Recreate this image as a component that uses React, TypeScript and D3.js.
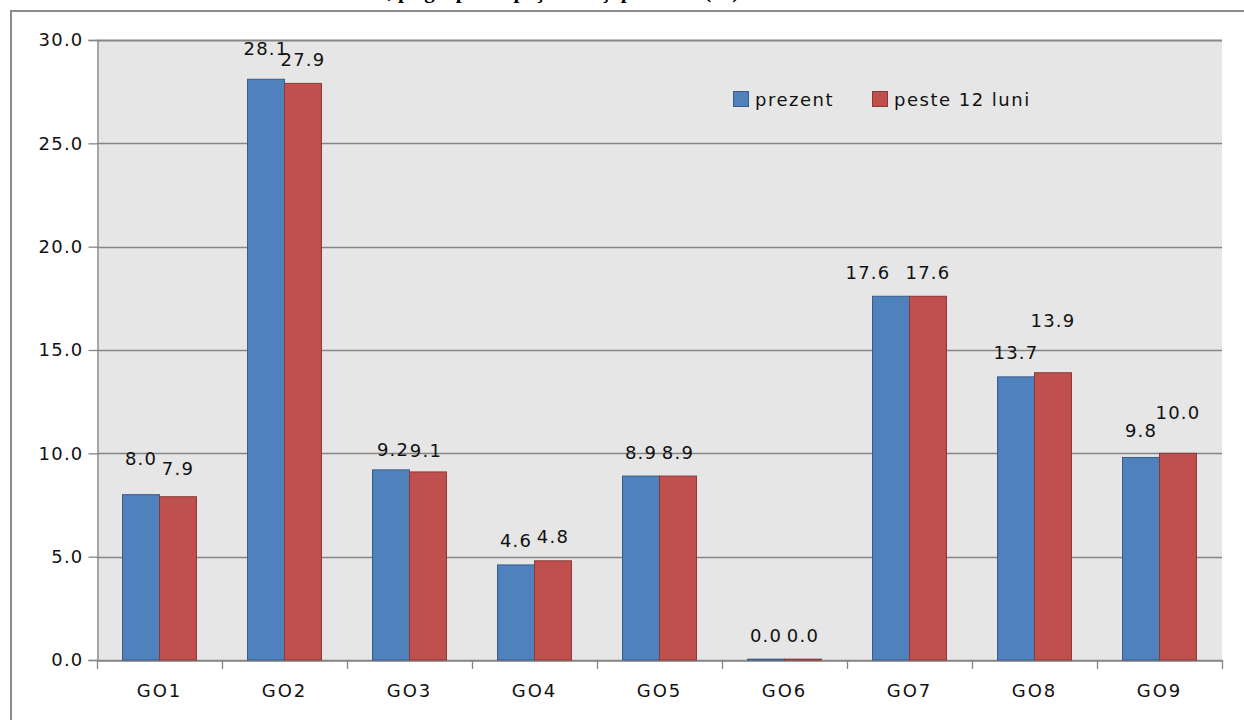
import React, { useRef, useEffect } from 'react';
import * as d3 from 'd3';

const categories = ['GO1', 'GO2', 'GO3', 'GO4', 'GO5', 'GO6', 'GO7', 'GO8', 'GO9'];
const seriesNames = ['prezent', 'peste 12 luni'];
const prezent = [8.0, 28.1, 9.2, 4.6, 8.9, 0.04, 17.6, 13.7, 9.8];
const peste12Luni = [7.9, 27.9, 9.1, 4.8, 8.9, 0.04, 17.6, 13.9, 10.0];
const yTicks = [0, 5, 10, 15, 20, 25, 30];
// label nudges (px) as moved by hand in the original chart: [dx, dy]
const nudgePrezent = [[0, -12], [0, -7], [2, 4], [0, 0], [0, 0], [0, 0], [-23, 0], [0, 0], [0, -3]];
const nudgePeste = [[0, -4], [0, 0], [-2, 3], [0, 0], [0, 0], [0, 0], [0, 0], [0, -28], [0, -17]];

const W = 1244;
const H = 720;
const FONT = '"DejaVu Sans", Verdana, sans-serif';

const App = () => {
    const ref = useRef(null);

    useEffect(() => {
        const svg = d3.select(ref.current);
        svg.selectAll('*').remove();

        const plot = { left: 97, right: 1222, top: 40, bottom: 660 };
        const fill = ['#4F81BD', '#C0504D'];
        const stroke = ['#385D8A', '#8C3836'];
        const data = [prezent, peste12Luni];
        const nudges = [nudgePrezent, nudgePeste];

        // title, cut off by the top edge of the picture (only descenders show)
        svg.append('text')
            .attr('x', 300)
            .attr('y', -2)
            .style('font-family', '"Liberation Serif", "Times New Roman", serif')
            .style('font-weight', 'bold')
            .style('font-size', '21px')
            .text('Structura, pe grupe ocupaţionale şi perioade (%)');

        // outer frame
        svg.append('path')
            .attr('d', `M11,${H} L11,11 L${W},11`)
            .attr('fill', 'none')
            .attr('stroke', '#8C8C8C')
            .attr('stroke-width', 2);

        // plot area
        svg.append('rect')
            .attr('x', plot.left).attr('y', plot.top)
            .attr('width', plot.right - plot.left)
            .attr('height', plot.bottom - plot.top)
            .attr('fill', '#E6E6E6');

        const x0 = d3.scaleBand()
            .domain(categories)
            .range([plot.left, plot.right])
            .padding(0);

        const x1 = d3.scaleBand()
            .domain(seriesNames)
            .range([0, x0.bandwidth()])
            .paddingInner(0)
            .paddingOuter(0.69);

        const y = d3.scaleLinear()
            .domain([0, 30])
            .range([plot.bottom, plot.top]);

        // gridlines
        svg.append('g')
            .selectAll('line')
            .data(yTicks)
            .enter().append('line')
            .attr('x1', plot.left).attr('x2', plot.right)
            .attr('y1', d => Math.round(y(d)) + 0.5)
            .attr('y2', d => Math.round(y(d)) + 0.5)
            .attr('stroke', '#868686')
            .attr('stroke-width', d => d === 30 ? 2 : 1.3);

        // y axis
        const yAxis = svg.append('g')
            .attr('transform', `translate(${plot.left + 0.5},0)`)
            .call(d3.axisLeft(y).tickValues(yTicks).tickFormat(d3.format('.1f')).tickSize(9).tickPadding(5));
        yAxis.select('.domain').attr('stroke', '#868686').attr('stroke-width', 1.3);
        yAxis.selectAll('.tick line').attr('stroke', '#868686').attr('stroke-width', 1.3);
        yAxis.selectAll('.tick text')
            .attr('fill', '#111')
            .style('font-family', FONT)
            .style('font-size', '18px')
            .style('letter-spacing', '1.2px');

        // x axis
        const xAxis = svg.append('g')
            .attr('transform', `translate(0,${Math.round(plot.bottom) + 0.5})`)
            .call(d3.axisBottom(x0).tickSize(0).tickPadding(24));
        xAxis.select('.domain').attr('stroke', '#868686').attr('stroke-width', 1.3);
        xAxis.selectAll('.tick text')
            .attr('fill', '#111')
            .style('font-family', FONT)
            .style('font-size', '18px')
            .style('letter-spacing', '2px');
        // category separators
        svg.append('g')
            .selectAll('line')
            .data(categories.concat(['end']))
            .enter().append('line')
            .attr('x1', (d, i) => Math.round(plot.left + i * x0.step()) + 0.5)
            .attr('x2', (d, i) => Math.round(plot.left + i * x0.step()) + 0.5)
            .attr('y1', plot.bottom)
            .attr('y2', plot.bottom + 9)
            .attr('stroke', '#868686')
            .attr('stroke-width', 1.3);

        // bars
        seriesNames.forEach((name, s) => {
            svg.append('g')
                .selectAll('rect')
                .data(data[s])
                .enter().append('rect')
                .attr('x', (d, i) => x0(categories[i]) + x1(name))
                .attr('y', d => y(d))
                .attr('width', x1.bandwidth())
                .attr('height', d => y(0) - y(d))
                .attr('fill', fill[s])
                .attr('stroke', stroke[s])
                .attr('stroke-width', 1);
        });

        // data labels
        seriesNames.forEach((name, s) => {
            svg.append('g')
                .selectAll('text')
                .data(data[s])
                .enter().append('text')
                .attr('x', (d, i) => x0(categories[i]) + x1(name) + x1.bandwidth() / 2 + nudges[s][i][0])
                .attr('y', (d, i) => y(d) - 24 + 6.5 + nudges[s][i][1])
                .attr('text-anchor', 'middle')
                .attr('fill', '#111')
                .style('font-family', FONT)
                .style('font-size', '18px')
                .style('letter-spacing', '1.2px')
                .text(d => d3.format('.1f')(d));
        });

        // legend
        const legendX = [733, 872];
        const legend = svg.append('g')
            .selectAll('g')
            .data(seriesNames)
            .enter().append('g')
            .attr('transform', (d, i) => `translate(${legendX[i]},91)`);
        legend.append('rect')
            .attr('x', 0.5).attr('y', 0.5)
            .attr('width', 15).attr('height', 15)
            .attr('fill', (d, i) => fill[i])
            .attr('stroke', (d, i) => stroke[i]);
        legend.append('text')
            .attr('x', 22)
            .attr('y', 14.5)
            .attr('fill', '#111')
            .style('font-family', FONT)
            .style('font-size', '18px')
            .style('letter-spacing', '1.5px')
            .text(d => d);
    }, []);

    return (
        <svg ref={ref} width={W} height={H}
            style={{ position: 'absolute', left: 0, top: 0, background: '#fff' }}></svg>
    );
};

export default App;
